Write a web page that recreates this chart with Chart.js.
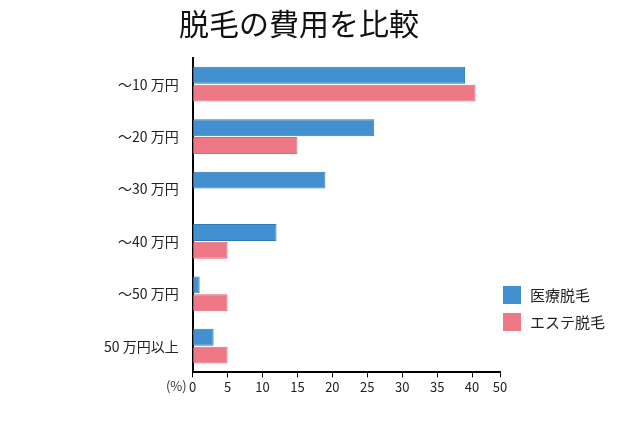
<!DOCTYPE html>
<html>
<head>
<meta charset="utf-8">
<script src="https://cdn.jsdelivr.net/npm/chart.js@4"></script>
<style>
  body { margin: 0; background: #fff; }
</style>
</head>
<body>
<canvas id="ct-chart" width="640" height="427"></canvas>
<script>
var categories = ["～10 万円", "～20 万円", "～30 万円", "～40 万円", "～50 万円", "50 万円以上"],
  medicalValues = [39, 26, 19, 12, 1, 3],
  esthValues = [40.5, 15, 0, 5, 5, 5],
  tickValues = [0, 5, 10, 15, 20, 25, 30, 35, 40, 44],
  tickLabels = ["0", "5", "10", "15", "20", "25", "30", "35", "40", "50"];

var fontFamily = "'Noto Sans CJK JP', 'Noto Sans', sans-serif";

// "(%)" next to the zero tick, plus legend drawn at the lower right
var extras = {
  id: "extras",
  afterDraw: function (chart) {
    var ctx = chart.ctx,
      x = chart.scales.x;
    ctx.save();
    ctx.font = "13px " + fontFamily;
    ctx.fillStyle = "#333";
    ctx.textAlign = "right";
    ctx.textBaseline = "top";
    ctx.fillText("(%)", x.left - 6, x.top + 7);

    ctx.textAlign = "left";
    ctx.textBaseline = "middle";
    ctx.font = "15px " + fontFamily;
    chart.data.datasets.forEach(function (ds, i) {
      var y = 295 + i * 27;
      ctx.fillStyle = ds.backgroundColor;
      ctx.fillRect(503, y - 9, 18, 18);
      ctx.fillStyle = "#222";
      ctx.fillText(ds.label, 530, y);
    });
    ctx.restore();
  },
};

new Chart(document.getElementById("ct-chart"), {
  type: "bar",
  data: {
    labels: categories,
    datasets: [
      {
        label: "医療脱毛",
        data: medicalValues,
        backgroundColor: "#4290cf",
        borderColor: "#2f7ab8",
        borderWidth: 1,
        categoryPercentage: 0.68,
        barPercentage: 0.95,
      },
      {
        label: "エステ脱毛",
        data: esthValues,
        backgroundColor: "#ee7886",
        borderColor: "#e06575",
        borderWidth: 1,
        categoryPercentage: 0.68,
        barPercentage: 0.95,
      },
    ],
  },
  options: {
    indexAxis: "y",
    responsive: false,
    animation: false,
    layout: { padding: { left: 98, right: 140, bottom: 30, top: 0 } },
    plugins: {
      title: {
        display: true,
        text: "脱毛の費用を比較",
        color: "#111",
        font: { family: fontFamily, size: 30, weight: "normal" },
        padding: { top: 6, bottom: 16 },
      },
      legend: { display: false },
      tooltip: { enabled: false },
    },
    scales: {
      x: {
        min: 0,
        max: 44,
        afterBuildTicks: function (axis) {
          axis.ticks = tickValues.map(function (v) {
            return { value: v };
          });
        },
        ticks: {
          color: "#222",
          font: { family: fontFamily, size: 13 },
          maxRotation: 0,
          padding: 2,
          callback: function (value, index) {
            return tickLabels[index];
          },
        },
        grid: { drawOnChartArea: false, color: "#000", tickLength: 5 },
        border: { color: "#000", width: 2 },
      },
      y: {
        ticks: {
          color: "#222",
          font: { family: fontFamily, size: 14 },
          padding: 6,
        },
        grid: { display: false },
        border: { color: "#000", width: 2 },
      },
    },
  },
  plugins: [extras],
});
</script>
</body>
</html>
